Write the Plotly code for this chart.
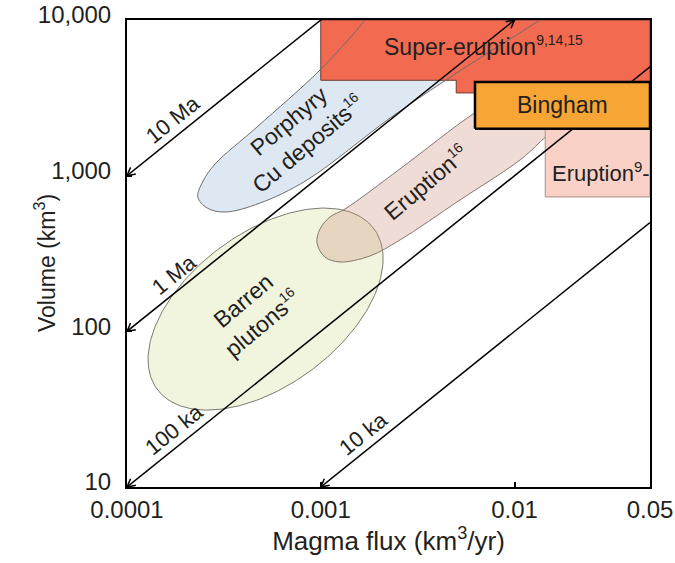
import numpy as np
import plotly.graph_objects as go

FONT = "Liberation Sans, Arial, Helvetica, sans-serif"
INK = "#231f20"

# ---------------- axes ----------------
flux_min, flux_max = 1e-4, 0.05
vol_min, vol_max = 10, 10000
flux_ticks = [1e-4, 1e-3, 1e-2, 5e-2]
flux_tick_labels = ["0.0001", "0.001", "0.01", "0.05"]
vol_ticks = [10, 100, 1000, 10000]
vol_tick_labels = ["10", "100", "1,000", "10,000"]

# ---------------- isochrons: volume = flux x duration ----------------
iso_names = ["10 Ma", "1 Ma", "100 ka", "10 ka"]
iso_years = [1e7, 1e6, 1e5, 1e4]
iso_label_flux = [1.92e-4, 1.95e-4, 1.95e-4, 1.85e-3]
iso_arrow_top = [False, True, False, False]

# ---------------- fields (flux km3/yr, volume km3) ----------------
porphyry_flux = [2.32e-4, 2.47e-4, 2.85e-4, 4.69e-4, 9.91e-4, 1.63e-3, 2.28e-3,
                 0.0245, 0.01306, 6.63e-3, 4.27e-3, 2.28e-3, 8.49e-4, 4.86e-4,
                 3.20e-4, 2.59e-4, 2.32e-4]
porphyry_vol = [729, 924, 1189, 2055, 4773, 9425, 16060,
                16060, 9710, 5700, 3997, 2347, 938, 667,
                584, 620, 729]

eruption16_flux = [9.56e-4, 9.91e-4, 1.116e-3, 1.334e-3, 2.56e-3, 6.10e-3, 8.93e-3,
                   0.0276, 0.0276, 0.01716, 0.01067, 5.23e-3, 2.56e-3, 1.795e-3,
                   1.257e-3, 1.051e-3, 9.56e-4]
eruption16_vol = [370, 454, 543, 611, 1104, 2490, 3298,
                  3448, 2564, 2085, 1261, 698, 386, 305,
                  279, 300, 370]

barren_centre = (5.19e-4, 139)
barren_semi_axes = (0.696, 0.394)   # in decades of flux
barren_tilt = 36.5                  # degrees

super_flux = [0.001, 0.05, 0.05, 0.005, 0.005, 0.001, 0.001]
super_vol = [10000, 10000, 3400, 3400, 4100, 4100, 10000]

bingham_flux = [0.00625, 0.05]
bingham_vol = [2000, 4000]

eruption9_flux = [0.0144, 0.05]
eruption9_vol = [730, 2000]

# ---------------- geometry of the page ----------------
W, H = 675, 563
M = dict(l=127, r=25, t=20, b=76)
x_px_dec = (W - M["l"] - M["r"]) / (np.log10(flux_max) - np.log10(flux_min))
y_px_dec = (H - M["t"] - M["b"]) / (np.log10(vol_max) - np.log10(vol_min))
iso_angle = np.degrees(np.arctan(y_px_dec / x_px_dec))


def box(xs, ys):
    return [xs[0], xs[1], xs[1], xs[0], xs[0]], [ys[0], ys[0], ys[1], ys[1], ys[0]]


def chevron(f, v, direction_deg, length=9, spread=28):
    """Open arrowhead with its tip at (f, v); wings point along direction_deg."""
    xs, ys = [], []
    for s in (spread, None, -spread):
        if s is None:
            xs.append(f)
            ys.append(v)
            continue
        ang = np.radians(direction_deg + s)
        xs.append(10 ** (np.log10(f) + length * np.cos(ang) / x_px_dec))
        ys.append(10 ** (np.log10(v) + length * np.sin(ang) / y_px_dec))
    return xs, ys


def sup(txt, size=14):
    return f"<sup><span style='font-size:{size}px'>{txt}</span></sup>"


fig = go.Figure()

# Barren plutons ellipse
t = np.linspace(0, 2 * np.pi, 241)
a, b = barren_semi_axes
th = np.radians(barren_tilt)
dx = a * np.cos(t) * np.cos(th) - b * np.sin(t) * np.sin(th)
dy = a * np.cos(t) * np.sin(th) + b * np.sin(t) * np.cos(th)
bx = 10 ** (np.log10(barren_centre[0]) + dx)
by = 10 ** (np.log10(barren_centre[1]) + dy * x_px_dec / y_px_dec)
fig.add_trace(go.Scatter(x=bx, y=by, mode="lines", fill="toself",
                         fillcolor="#F1F5DE", line=dict(color="#7a7a6e", width=1)))

# Eruption field (semi-transparent so the overlap darkens)
fig.add_trace(go.Scatter(x=eruption16_flux, y=eruption16_vol, mode="lines", fill="toself",
                         fillcolor="rgba(206,140,118,0.30)",
                         line=dict(color="#857670", width=1, shape="spline", smoothing=1)))

# Porphyry Cu field fill
fig.add_trace(go.Scatter(x=porphyry_flux, y=porphyry_vol, mode="lines", fill="toself",
                         fillcolor="#DDE8F2",
                         line=dict(color="rgba(0,0,0,0)", width=0, shape="spline", smoothing=1)))

# Super-eruption block
fig.add_trace(go.Scatter(x=super_flux, y=super_vol, mode="lines", fill="toself",
                         fillcolor="#F26A50", line=dict(color="#6e3a30", width=1)))

# Eruption box
ex, ey = box(eruption9_flux, eruption9_vol)
fig.add_trace(go.Scatter(x=ex, y=ey, mode="lines", fill="toself",
                         fillcolor="#F9D1C7", line=dict(color="#a88f8a", width=1)))

# Porphyry outline on top of the blocks
fig.add_trace(go.Scatter(x=porphyry_flux, y=porphyry_vol, mode="lines",
                         line=dict(color="#6d6d6d", width=1, shape="spline", smoothing=1)))

# Isochrons with open arrowheads where they meet the frame
for yrs, top in zip(iso_years, iso_arrow_top):
    fig.add_trace(go.Scatter(x=[flux_min, flux_max], y=[flux_min * yrs, flux_max * yrs],
                             mode="lines", line=dict(color="black", width=1.5)))
    f0 = max(flux_min, vol_min / yrs)
    cx, cy = chevron(f0, f0 * yrs, iso_angle)
    fig.add_trace(go.Scatter(x=cx, y=cy, mode="lines", line=dict(color="black", width=1.5)))
    if top:
        f1 = vol_max / yrs
        cx, cy = chevron(f1, vol_max, iso_angle + 180)
        fig.add_trace(go.Scatter(x=cx, y=cy, mode="lines", line=dict(color="black", width=1.5)))

# Bingham box
gx, gy = box(bingham_flux, bingham_vol)
fig.add_trace(go.Scatter(x=gx, y=gy, mode="lines", fill="toself",
                         fillcolor="#F7A535", line=dict(color="black", width=2.5)))

ann = []
for name, yrs, lf in zip(iso_names, iso_years, iso_label_flux):
    ann.append(dict(x=np.log10(lf), y=np.log10(lf * yrs), xref="x", yref="y", text=name,
                    showarrow=False, textangle=-iso_angle, xshift=-9, yshift=12,
                    font=dict(size=22, color=INK, family=FONT)))


def label(text, f, v, angle=0, size=23, xanchor="center"):
    ann.append(dict(x=np.log10(f), y=np.log10(v), xref="x", yref="y", text=text,
                    showarrow=False, textangle=angle, xanchor=xanchor,
                    font=dict(size=size, color=INK, family=FONT)))


label("Porphyry<br>Cu deposits" + sup("16"), 7.63e-4, 1880, angle=-40)
label("Eruption" + sup("16"), 3.49e-3, 911, angle=-40)
label("Barren<br>plutons" + sup("16"), 4.47e-4, 133, angle=-40)
label("Super-eruption" + sup("9,14,15"), 6.9e-3, 6800)
label("Bingham", np.sqrt(bingham_flux[0] * bingham_flux[1]),
      np.sqrt(bingham_vol[0] * bingham_vol[1]))
label("Eruption" + sup("9", 15) + "-", 0.01524, 1056, size=22, xanchor="left")

# vertical axis title, placed in the left margin
ann.append(dict(xref="paper", yref="paper", x=(28 - M["l"]) / (W - M["l"] - M["r"]),
                y=1 - (263 - M["t"]) / (H - M["t"] - M["b"]),
                text="Volume (km<sup>3</sup>)", showarrow=False, textangle=-90,
                font=dict(size=23, color=INK, family=FONT)))

axis_common = dict(type="log", showgrid=False, zeroline=False, showline=True,
                   linecolor="black", linewidth=2, mirror=True, ticks="inside",
                   ticklen=5, tickwidth=1.5, tickcolor="black", automargin=False,
                   tickfont=dict(size=24, color=INK, family=FONT))

fig.update_layout(
    width=W, height=H, margin=M,
    paper_bgcolor="white", plot_bgcolor="white",
    showlegend=False, hovermode=False,
    annotations=ann,
    xaxis=dict(axis_common, range=[np.log10(flux_min), np.log10(flux_max)],
               tickvals=flux_ticks, ticktext=flux_tick_labels,
               title=dict(text="Magma flux (km<sup>3</sup>/yr)", standoff=10,
                          font=dict(size=26, color=INK, family=FONT))),
    yaxis=dict(axis_common, range=[np.log10(vol_min), np.log10(vol_max)],
               tickvals=vol_ticks, ticktext=vol_tick_labels, ticklabelstandoff=9,
               ticklabelshift=-5),
)

fig.write_html("out.html")
